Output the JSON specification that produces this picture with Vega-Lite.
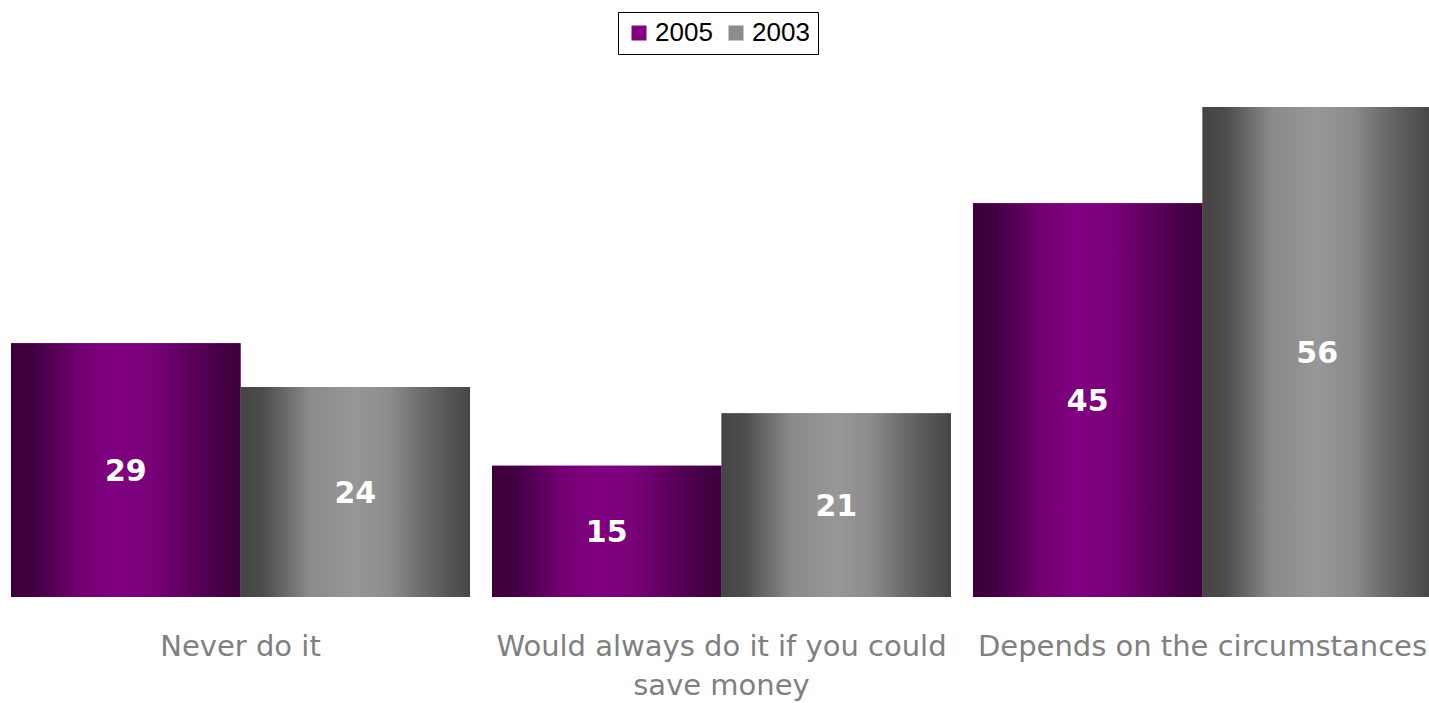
{
  "$schema": "https://vega.github.io/schema/vega-lite/v6.json",
  "width": 1429,
  "height": 490,
  "autosize": {"type": "none"},
  "padding": {"left": 0, "top": 107, "right": 0, "bottom": 106},
  "background": "white",
  "config": {"view": {"stroke": null}},
  "data": {
    "values": [
      {"category": "Never do it", "year": "2005", "value": 29},
      {"category": "Never do it", "year": "2003", "value": 24},
      {"category": "Would always do it if you could save money", "year": "2005", "value": 15},
      {"category": "Would always do it if you could save money", "year": "2003", "value": 21},
      {"category": "Depends on the circumstances", "year": "2005", "value": 45},
      {"category": "Depends on the circumstances", "year": "2003", "value": 56}
    ]
  },
  "encoding": {
    "x": {
      "field": "category",
      "type": "nominal",
      "sort": ["Never do it", "Would always do it if you could save money", "Depends on the circumstances"],
      "scale": {"range": [0, 1443], "paddingInner": 0.0457, "paddingOuter": 0.0229},
      "axis": {
        "title": null,
        "domain": false,
        "ticks": false,
        "labelAngle": 0,
        "labelFont": "DejaVu Sans",
        "labelFontSize": 29,
        "labelColor": "#808080",
        "labelPadding": 35,
        "labelLineHeight": 39,
        "labelLimit": 0,
        "labelExpr": "datum.label === 'Would always do it if you could save money' ? ['Would always do it if you could', 'save money'] : datum.label"
      }
    },
    "xOffset": {"field": "year", "type": "nominal", "sort": ["2005", "2003"], "scale": {"paddingInner": 0, "paddingOuter": 0}},
    "y": {"field": "value", "type": "quantitative", "scale": {"domain": [0, 56]}, "axis": null}
  },
  "layer": [
    {
      "mark": {"type": "bar"},
      "encoding": {
        "color": {
          "field": "year",
          "type": "nominal",
          "sort": ["2005", "2003"],
          "scale": {"range": ["#800080", "#8c8c8c"]},
          "legend": {
            "title": null,
            "orient": "none",
            "direction": "horizontal",
            "legendX": 618,
            "legendY": -95,
            "strokeColor": "black",
            "fillColor": "white",
            "padding": 8,
            "symbolType": "square",
            "symbolSize": 225,
            "symbolStrokeWidth": 0,
            "labelFont": "Liberation Sans",
            "labelFontSize": 26,
            "labelColor": "black",
            "labelOffset": 3,
            "columnPadding": 10
          }
        }
      }
    },
    {
      "mark": {"type": "bar"},
      "encoding": {
        "fill": {
          "condition": {
            "test": "datum.year === '2005'",
            "value": {"gradient": "linear", "x1": 0, "x2": 1, "y1": 0, "y2": 0, "stops": [
              {"offset": 0, "color": "#3a003a"},
              {"offset": 0.1, "color": "#420042"},
              {"offset": 0.3, "color": "#720072"},
              {"offset": 0.45, "color": "#800080"},
              {"offset": 0.6, "color": "#7a007a"},
              {"offset": 0.75, "color": "#620062"},
              {"offset": 0.9, "color": "#470047"},
              {"offset": 1, "color": "#3c003c"}
            ]}
          },
          "value": {"gradient": "linear", "x1": 0, "x2": 1, "y1": 0, "y2": 0, "stops": [
            {"offset": 0, "color": "#444444"},
            {"offset": 0.1, "color": "#4c4c4c"},
            {"offset": 0.3, "color": "#8a8a8a"},
            {"offset": 0.5, "color": "#979797"},
            {"offset": 0.65, "color": "#8c8c8c"},
            {"offset": 0.8, "color": "#6a6a6a"},
            {"offset": 0.9, "color": "#575757"},
            {"offset": 1, "color": "#464646"}
          ]}
        }
      }
    },
    {
      "transform": [{"calculate": "datum.value / 2", "as": "mid"}],
      "mark": {"type": "text", "font": "DejaVu Sans", "fontWeight": "bold", "fontSize": 30, "color": "white", "baseline": "middle", "align": "center", "dy": 2},
      "encoding": {
        "y": {"field": "mid", "type": "quantitative"},
        "text": {"field": "value", "type": "quantitative"}
      }
    }
  ]
}
